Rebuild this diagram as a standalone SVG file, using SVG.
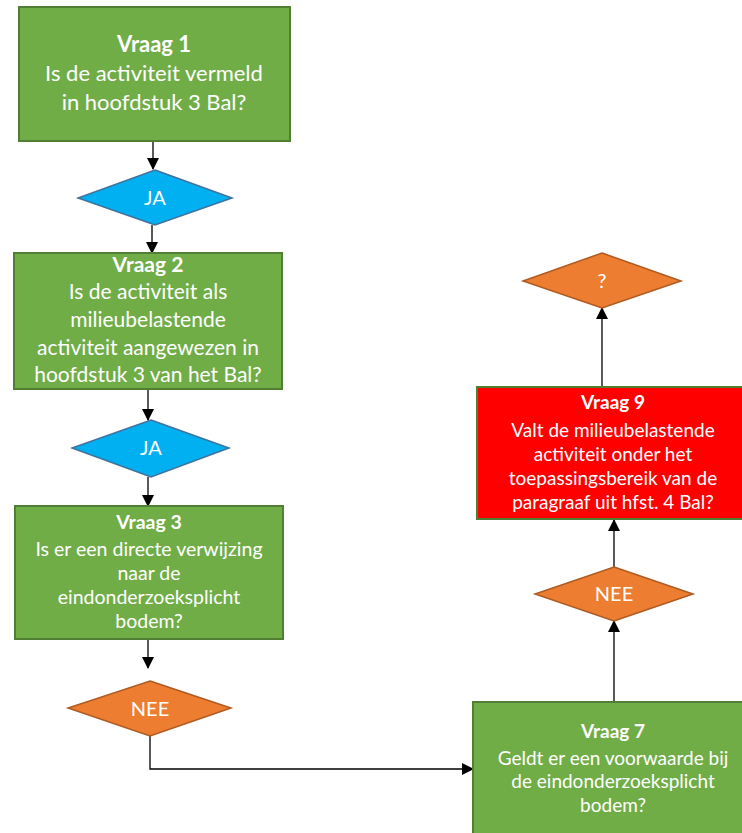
<svg xmlns="http://www.w3.org/2000/svg" width="742" height="833" viewBox="0 0 742 833">
<style>
.box{fill:#70AD47;stroke:#507E32;stroke-width:2}
.red{fill:#FF0000;stroke:#507E32;stroke-width:2}
.blue{fill:#00B0F0;stroke:#41719C;stroke-width:1.5}
.orange{fill:#ED7D31;stroke:#AE5A21;stroke-width:1.5}
text{font-family:Lato,"Liberation Sans",sans-serif;fill:#FFFFFF;text-anchor:middle}
.b{font-weight:bold}
.con{fill:none;stroke:#000;stroke-width:1.3}
</style>
<defs>
<marker id="ah" markerWidth="12" markerHeight="12" refX="11" refY="6" orient="auto" markerUnits="userSpaceOnUse" viewBox="0 0 12 12">
<path d="M0,0 L12,6 L0,12 z" fill="#000"/>
</marker>
</defs>
<rect width="742" height="833" fill="#FFFFFF"/>
<g id="connectors">
<path class="con" d="M153,141 V169" marker-end="url(#ah)"/>
<path class="con" d="M152,225 V253" marker-end="url(#ah)"/>
<path class="con" d="M148,389 V420" marker-end="url(#ah)"/>
<path class="con" d="M148,477 V506" marker-end="url(#ah)"/>
<path class="con" d="M148,639 V668" marker-end="url(#ah)"/>
<path class="con" d="M150,736 V769 H473" marker-end="url(#ah)"/>
<path class="con" d="M614,702 V621" marker-end="url(#ah)"/>
<path class="con" d="M614,567 V520" marker-end="url(#ah)"/>
<path class="con" d="M602,387 V308" marker-end="url(#ah)"/>
</g>
<g id="vraag1">
<rect class="box" x="19" y="7" width="271" height="134"/>
<text x="154" y="52" font-size="22" class="b">Vraag 1</text>
<text x="154" y="81" font-size="22">Is de activiteit vermeld</text>
<text x="154" y="110" font-size="22">in hoofdstuk 3 Bal?</text>
</g>
<g id="ja1">
<polygon class="blue" points="155,170 232,198 155,225 78,198"/>
<text x="155" y="205" font-size="20">JA</text>
</g>
<g id="vraag2">
<rect class="box" x="14" y="253" width="268" height="136"/>
<text x="148" y="272" font-size="21" class="b">Vraag 2</text>
<text x="148" y="299" font-size="21">Is de activiteit als</text>
<text x="148" y="327" font-size="21">milieubelastende</text>
<text x="148" y="355" font-size="21">activiteit aangewezen in</text>
<text x="148" y="382" font-size="21">hoofdstuk 3 van het Bal?</text>
</g>
<g id="ja2">
<polygon class="blue" points="151,420 229,448 151,477 72,448"/>
<text x="151" y="455" font-size="20">JA</text>
</g>
<g id="vraag3">
<rect class="box" x="15" y="506" width="268" height="133"/>
<text x="149" y="529" font-size="19.5" class="b">Vraag 3</text>
<text x="149" y="556" font-size="19.5">Is er een directe verwijzing</text>
<text x="149" y="580" font-size="19.5">naar de</text>
<text x="149" y="604" font-size="19.5">eindonderzoeksplicht</text>
<text x="149" y="628" font-size="19.5">bodem?</text>
</g>
<g id="nee1">
<polygon class="orange" points="150,681 231,708 150,736 68,708"/>
<text x="150" y="716" font-size="20">NEE</text>
</g>
<g id="vraag7">
<rect class="box" x="473" y="702" width="280" height="140"/>
<text x="613" y="738" font-size="19" class="b">Vraag 7</text>
<text x="613" y="765" font-size="19">Geldt er een voorwaarde bij</text>
<text x="613" y="788" font-size="19">de eindonderzoeksplicht</text>
<text x="613" y="812" font-size="19">bodem?</text>
</g>
<g id="nee2">
<polygon class="orange" points="614,567 693,594 614,621 535,594"/>
<text x="614" y="601" font-size="20">NEE</text>
</g>
<g id="vraag9">
<rect class="red" x="477" y="387" width="272" height="132"/>
<text x="613" y="409" font-size="19" class="b">Vraag 9</text>
<text x="613" y="437" font-size="19">Valt de milieubelastende</text>
<text x="613" y="461" font-size="19">activiteit onder het</text>
<text x="613" y="485" font-size="19">toepassingsbereik van de</text>
<text x="613" y="509" font-size="19">paragraaf uit hfst. 4 Bal?</text>
</g>
<g id="vraag">
<polygon class="orange" points="602,253 681,281 602,308 523,281"/>
<text x="602" y="288" font-size="20">?</text>
</g>
</svg>
